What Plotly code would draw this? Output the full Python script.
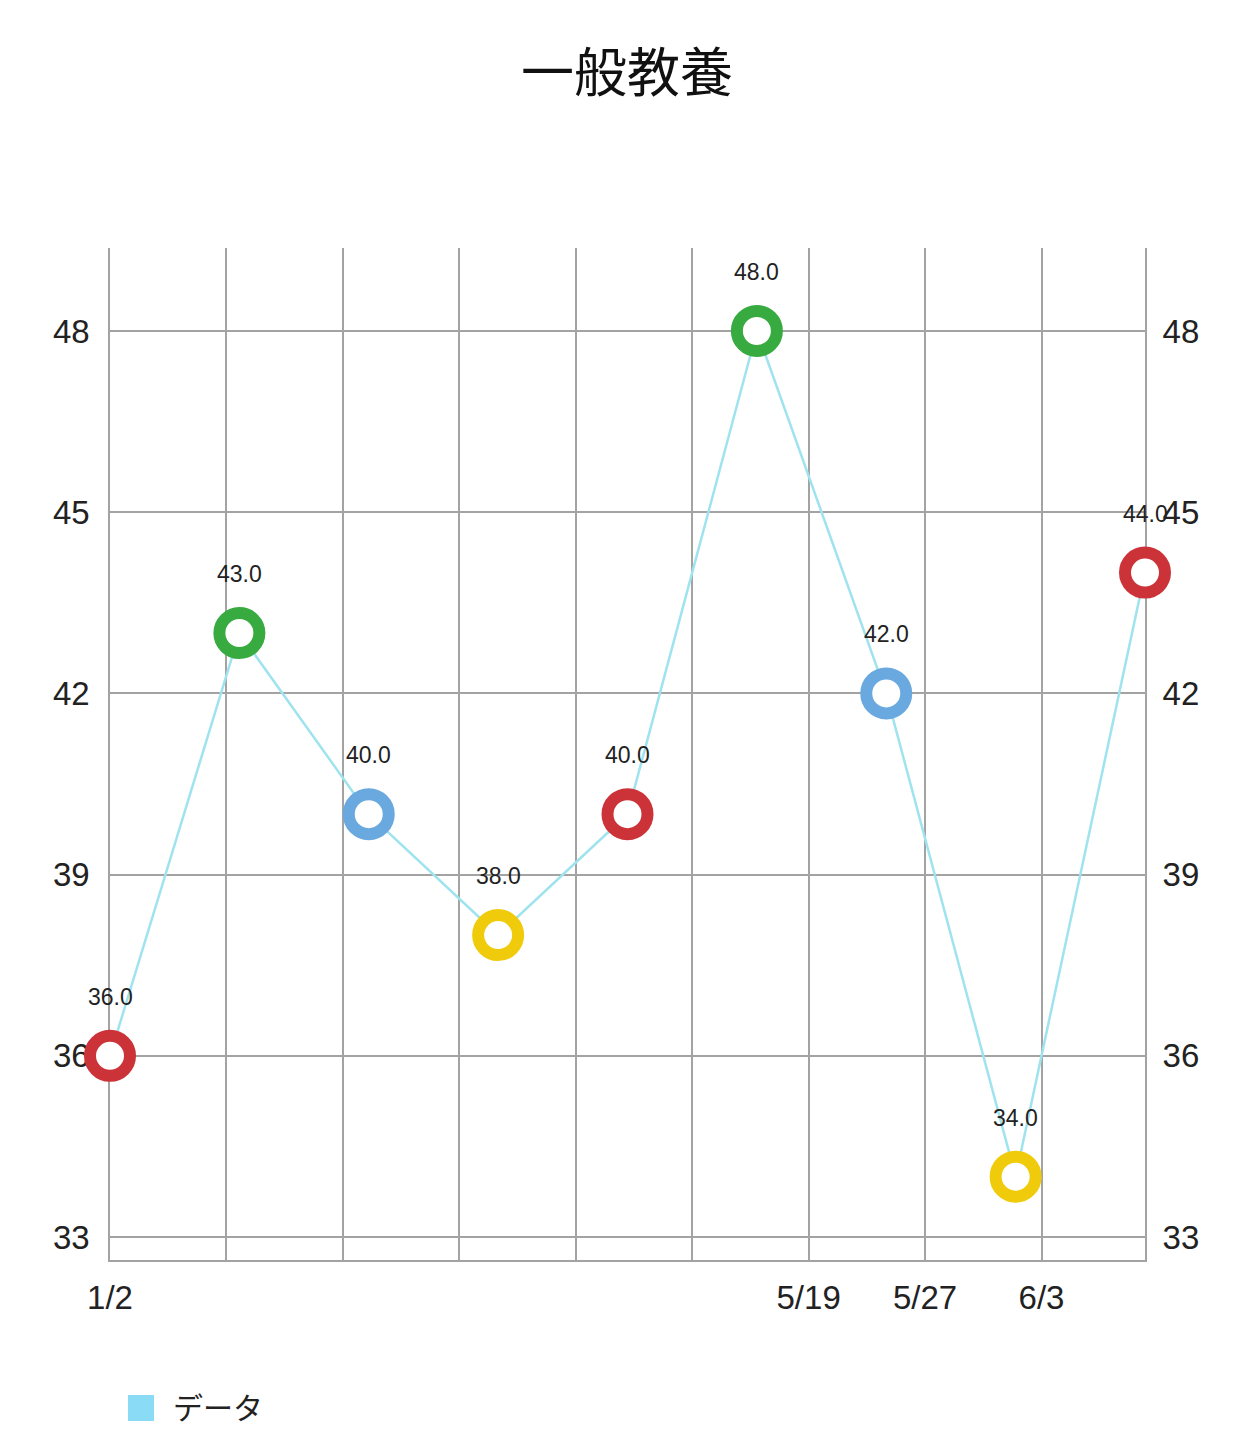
import plotly.graph_objects as go

# ---- data ----
title_text = "一般教養"
series_name = "データ"
values = [36, 43, 40, 38, 40, 48, 42, 34, 44]
x_labels = ["1/2", "", "", "", "", "", "5/19", "5/27", "6/3"]
y_ticks = [33, 36, 39, 42, 45, 48]
marker_colors = ["#cc3338", "#38ab40", "#6aa9e0", "#f0cb0c"]

# ---- styling ----
FONT = "Liberation Sans, Noto Sans CJK JP, sans-serif"
LINE_COLOR = "#9fe3ef"
LEGEND_COLOR = "#8adcf6"
GRID = "#a3a3a3"
GRID_STEP = 0.9

# page body has an 8px margin: compensate
OFF = 8
W, H = 1255 - OFF, 1448 - OFF
L, T = 109 - OFF + 1, 248 - OFF
PW, PH = 1035, 1012

xs = list(range(len(values)))
cols = [marker_colors[i % len(marker_colors)] for i in xs]
tickvals = [i * GRID_STEP for i in range(len(x_labels))]

fig = go.Figure()
fig.add_trace(go.Scatter(
    x=xs, y=values, mode="lines+markers", name=series_name,
    line=dict(color=LINE_COLOR, width=2.5),
    marker=dict(size=40, color="white", line=dict(color=cols, width=12)),
    cliponaxis=False, showlegend=False, hoverinfo="skip",
))
# invisible trace to drive right-side axis
fig.add_trace(go.Scatter(x=xs, y=values, yaxis="y2", mode="markers",
                         marker=dict(opacity=0), showlegend=False, hoverinfo="skip"))

annotations = []
for x, v in zip(xs, values):
    annotations.append(dict(x=x, y=v, xref="x", yref="y", text=f"{v:.1f}",
                            showarrow=False, yshift=59,
                            font=dict(family=FONT, size=23, color="#222222")))
# legend (drawn)
annotations.append(dict(x=(170 - 109) / PW, y=(1260 - 1408) / PH, xref="paper", yref="paper",
                        text=series_name, showarrow=False, xanchor="left", yanchor="middle",
                        font=dict(family=FONT, size=30, color="#222222")))

yrange = [32.62, 49.374]

fig.update_layout(
    width=W, height=H,
    margin=dict(l=L, r=W - L - PW, t=T, b=H - T - PH),
    paper_bgcolor="white", plot_bgcolor="white",
    title=dict(text=title_text, x=(627 - OFF) / W, xanchor="center", y=1 - (73 - OFF) / H,
               yanchor="middle",
               font=dict(family=FONT, size=53, color="#111111")),
    xaxis=dict(range=[0, 8], tickmode="array", tickvals=tickvals, ticktext=x_labels,
               showgrid=True, gridcolor=GRID, gridwidth=1.5, zeroline=False,
               showline=True, linecolor=GRID, linewidth=1.5,
               ticks="outside", ticklen=8, tickcolor="rgba(0,0,0,0)",
               tickfont=dict(family=FONT, size=33, color="#222222"), layer="below traces"),
    yaxis=dict(range=yrange, tickmode="array", tickvals=y_ticks,
               showgrid=True, gridcolor=GRID, gridwidth=1.5, zeroline=False,
               showline=True, mirror=True, linecolor=GRID, linewidth=1.5,
               ticks="outside", ticklen=12, tickcolor="rgba(0,0,0,0)",
               tickfont=dict(family=FONT, size=33, color="#222222"), layer="below traces"),
    yaxis2=dict(range=yrange, tickmode="array", tickvals=y_ticks, overlaying="y", side="right",
                showgrid=False, zeroline=False, showline=False,
                ticks="outside", ticklen=10, tickcolor="rgba(0,0,0,0)",
                tickfont=dict(family=FONT, size=33, color="#222222"), layer="below traces"),
    shapes=[dict(type="rect", xref="paper", yref="paper",
                 x0=(127 - 109) / PW, x1=(153 - 109) / PW,
                 y0=(1260 - 1421) / PH, y1=(1260 - 1395) / PH,
                 fillcolor=LEGEND_COLOR, line=dict(width=0))],
    annotations=annotations,
    showlegend=False,
)

fig.write_html("out.html")
